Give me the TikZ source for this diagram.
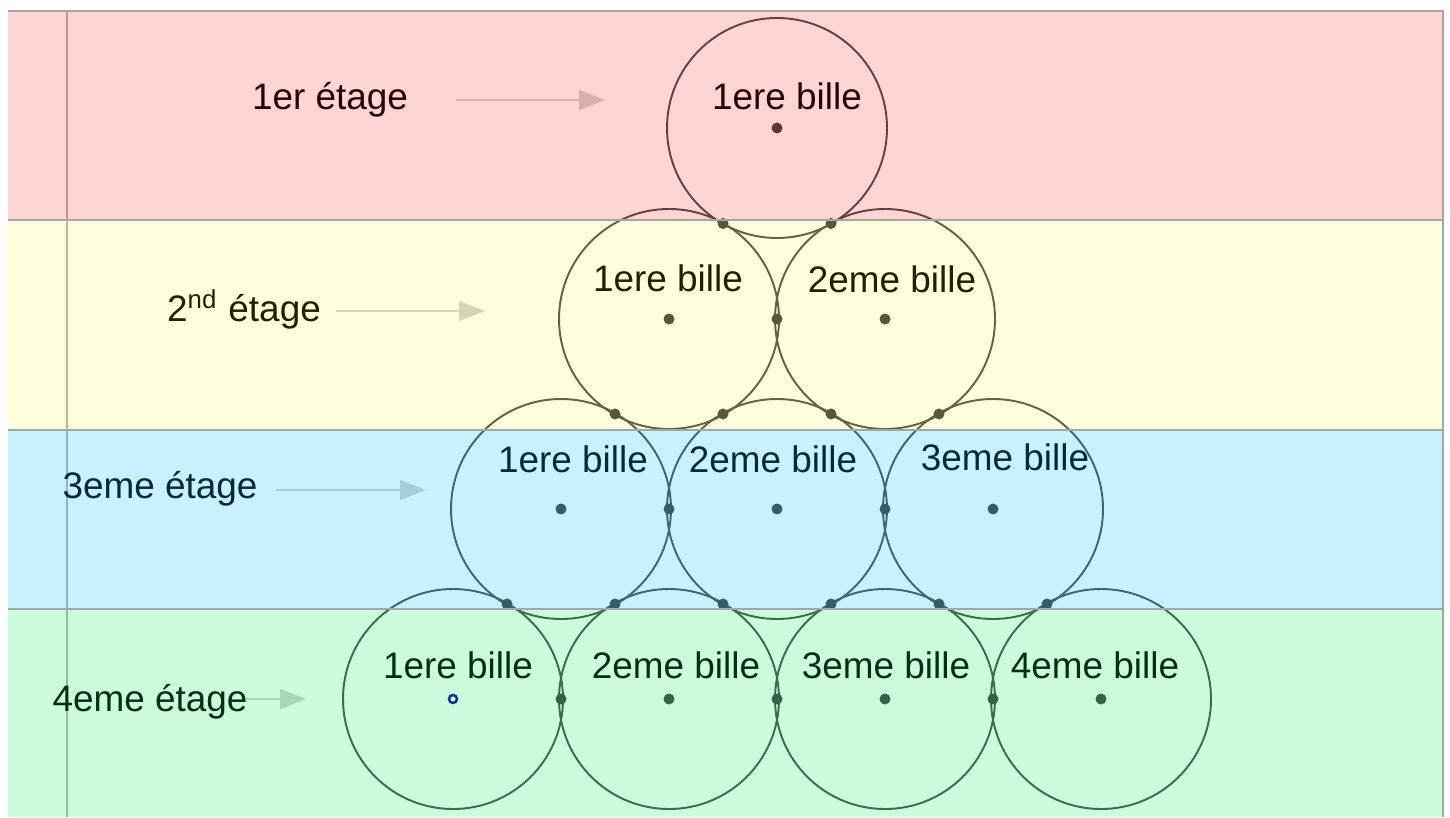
\documentclass[tikz,border=0pt]{standalone}
\usepackage{fontspec}
\setmainfont{Liberation Sans}
\usepackage{tikz}
\usetikzlibrary{arrows.meta}
\definecolor{etgrouge}{RGB}{255,0,0}
\definecolor{etgjaune}{RGB}{255,255,0}
\definecolor{etgbleu}{RGB}{0,199,255}
\definecolor{etgvert}{RGB}{0,240,90}

\begin{document}
\begin{tikzpicture}[
    txt/.style={anchor=base,inner sep=0pt,font=\fontsize{10.5}{12}\selectfont},
    bille/.style={draw=black!70,line width=0.55pt},
    pt/.style={fill=black!75},
    fleche/.style={draw=black!18,line width=0.6pt,-{Triangle[length=2.6mm,width=2mm]}}]
    \useasboundingbox (0,0) rectangle (14.5,8.17);
    \fill[white] (0,0) rectangle (14.5,8.17);
    \draw[black!30,line width=0.6pt] (0.67,0) -- (0.67,8.06);
    % les billes
    \draw[bille] (7.77,6.89) circle (1.1);
    \draw[bille] (6.69,4.98) circle (1.1);
    \draw[bille] (8.85,4.98) circle (1.1);
    \draw[bille] (5.61,3.08) circle (1.1);
    \draw[bille] (7.77,3.08) circle (1.1);
    \draw[bille] (9.93,3.08) circle (1.1);
    \draw[bille] (4.53,1.18) circle (1.1);
    \draw[bille] (6.69,1.18) circle (1.1);
    \draw[bille] (8.85,1.18) circle (1.1);
    \draw[bille] (11.01,1.18) circle (1.1);
    % centres et points de contact
    \fill[pt] (7.77,6.89) circle (0.055) (6.69,4.98) circle (0.055) (8.85,4.98) circle (0.055)
      (5.61,3.08) circle (0.055) (7.77,3.08) circle (0.055) (9.93,3.08) circle (0.055)
      (6.69,1.18) circle (0.055) (8.85,1.18) circle (0.055) (11.01,1.18) circle (0.055);
    \fill[pt] (7.23,5.935) circle (0.055) (8.31,5.935) circle (0.055) (7.77,4.98) circle (0.055)
      (6.15,4.03) circle (0.055) (7.23,4.03) circle (0.055) (8.31,4.03) circle (0.055) (9.39,4.03) circle (0.055)
      (6.69,3.08) circle (0.055) (8.85,3.08) circle (0.055)
      (5.07,2.13) circle (0.055) (6.15,2.13) circle (0.055) (7.23,2.13) circle (0.055)
      (8.31,2.13) circle (0.055) (9.39,2.13) circle (0.055) (10.47,2.13) circle (0.055)
      (5.61,1.18) circle (0.055) (7.77,1.18) circle (0.055) (9.93,1.18) circle (0.055);
    \draw[blue!70!black,fill=white,line width=0.7pt] (4.53,1.18) circle (0.04);
    % noms des billes
    \node[txt] (b11) at (7.87,7.07) {1ere bille};
    \node[txt] (b21) at (6.68,5.25) {1ere bille};
    \node[txt] (b22) at (8.92,5.24) {2eme bille};
    \node[txt] (b31) at (5.73,3.44) {1ere bille};
    \node[txt] (b32) at (7.73,3.44) {2eme bille};
    \node[txt] (b33) at (10.05,3.46) {3eme bille};
    \node[txt] (b41) at (4.58,1.39) {1ere bille};
    \node[txt] (b42) at (6.76,1.39) {2eme bille};
    \node[txt] (b43) at (8.86,1.39) {3eme bille};
    \node[txt] (b44) at (10.95,1.39) {4eme bille};
    % etages
    \node[txt] (e1) at (3.30,7.07) {1er étage};
    \node[txt] (e2) at (2.44,4.95) {2\textsuperscript{nd} étage};
    \node[txt] (e3) at (1.60,3.18) {3eme étage};
    \node[txt] (e4) at (1.50,1.06) {4eme étage};
    \coordinate (a1) at (4.56,7.17);  \coordinate (f1) at (6.05,7.17);
    \coordinate (a2) at (3.36,5.06);  \coordinate (f2) at (4.85,5.06);
    \coordinate (a3) at (2.76,3.27);  \coordinate (f3) at (4.26,3.27);
    \coordinate (a4) at (2.45,1.18);  \coordinate (f4) at (3.06,1.18);
    \draw[fleche] (a1) -- (f1);
    \draw[fleche] (a2) -- (f2);
    \draw[fleche] (a3) -- (f3);
    \draw[fleche] (a4) -- (f4);
    % bandes
    \fill[etgrouge,opacity=0.165] (0.08,5.97) rectangle (14.43,8.06);
    \fill[etgjaune,opacity=0.13] (0.08,3.87) rectangle (14.43,5.97);
    \fill[etgbleu,opacity=0.216] (0.08,2.08) rectangle (14.43,3.87);
    \fill[etgvert,opacity=0.2] (0.08,0) rectangle (14.43,2.08);
    \draw[black!35,line width=0.5pt] (0.08,8.06) -- (14.43,8.06) -- (14.43,0);
    \draw[black!35,line width=0.5pt] (0.08,5.97) -- (14.43,5.97) (0.08,3.87) -- (14.43,3.87)
      (0.08,2.08) -- (14.43,2.08);
  \end{tikzpicture}
\end{document}
